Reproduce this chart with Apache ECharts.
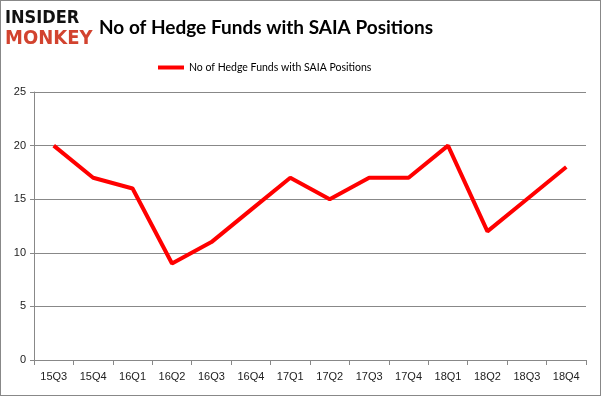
<!DOCTYPE html>
<html><head><meta charset="utf-8">
<script src="https://cdn.jsdelivr.net/npm/echarts@6/dist/echarts.min.js"></script>
<style>html,body{margin:0;padding:0;background:#fff}#c{width:601px;height:396px;box-sizing:border-box;border:1px solid #888}</style>
</head><body><div id="c"></div>
<script>
const categories = ['15Q3','15Q4','16Q1','16Q2','16Q3','16Q4','17Q1','17Q2','17Q3','17Q4','18Q1','18Q2','18Q3','18Q4'];
const seriesName = 'No of Hedge Funds with SAIA Positions';
const values = [20,17,16,9,11,14,17,15,17,17,20,12,15,18];
const yTicks = [0,5,10,15,20,25];

const chart = echarts.init(document.getElementById('c'), null, {renderer:'canvas'});
chart.setOption({
  animation:false,
  title:[{text:'No of Hedge Funds with SAIA Positions', left:93, top:12,
    textStyle:{fontFamily:'Lato', fontWeight:'bold', fontSize:19, color:'#000'}}],
  graphic:[
    {type:'text', left:4, top:8, style:{text:'INSIDER', fontFamily:'DejaVu Sans Condensed', fontWeight:'bold', fontSize:18, fill:'#111'}},
    {type:'text', left:4, top:28, style:{text:'MONKEY', fontFamily:'DejaVu Sans Condensed', fontWeight:'bold', fontSize:20, fill:'#d2432f'}}
  ],
  legend:{data:[seriesName], top:56, left:152, itemWidth:26, itemHeight:4, icon:'rect', itemGap:3,
    textStyle:{fontFamily:'Lato', fontSize:10.5, color:'#000'}},
  grid:{left:33, right:14, top:91, bottom:35, containLabel:false},
  xAxis:{type:'category', data:categories, boundaryGap:true,
    axisLine:{lineStyle:{color:'#888'}}, axisTick:{show:true, length:5, lineStyle:{color:'#888'}},
    axisLabel:{fontFamily:'Liberation Sans', fontSize:11, color:'#222', margin:11}},
  yAxis:{type:'value', min:0, max:25, interval:5,
    axisLine:{show:true, lineStyle:{color:'#888'}}, axisTick:{show:true, length:4, inside:false, lineStyle:{color:'#888'}},
    splitLine:{lineStyle:{color:'#888'}},
    axisLabel:{fontFamily:'Liberation Sans', fontSize:11, color:'#222', margin:8,
      formatter:v=>yTicks.includes(v)?String(v):''}},
  series:[{name:seriesName, type:'line', data:values, symbol:'none',
    lineStyle:{color:'#ff0000', width:4}, itemStyle:{color:'#ff0000'}}]
});
</script></body></html>
